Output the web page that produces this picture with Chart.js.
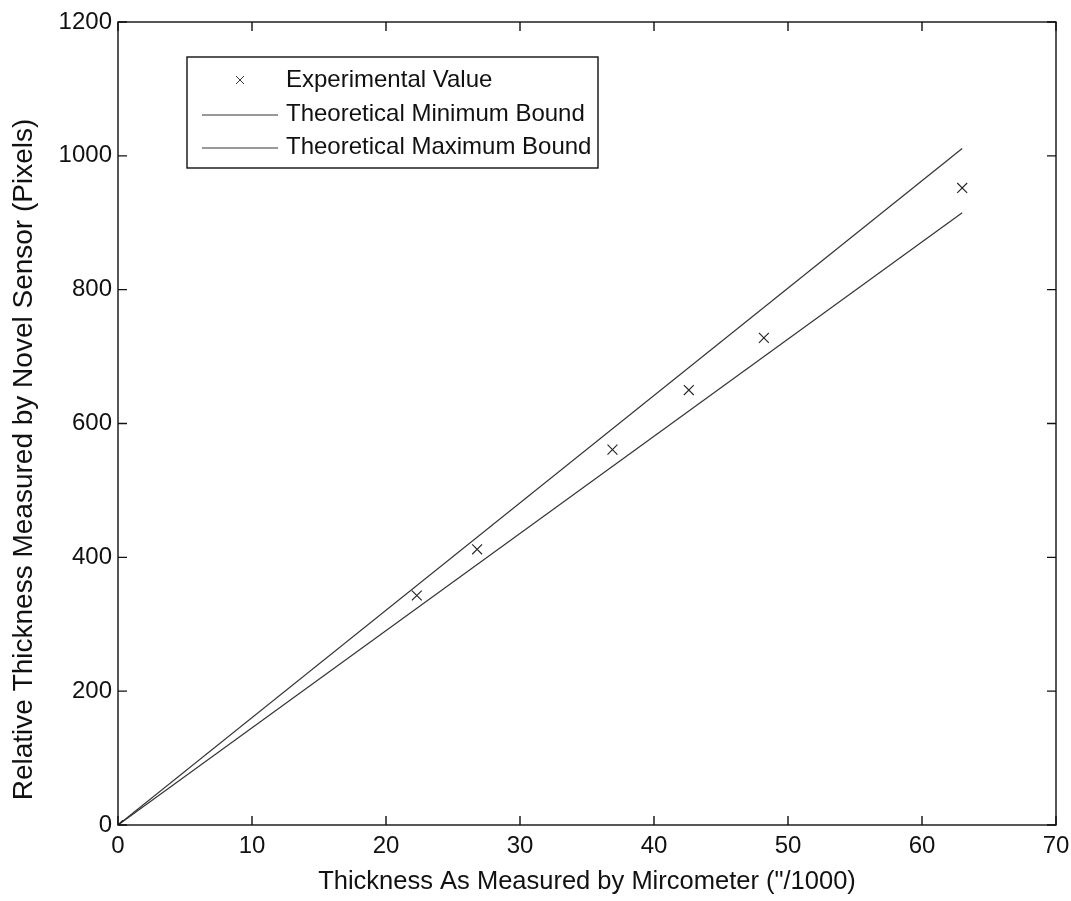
<!DOCTYPE html>
<html><head><meta charset="utf-8">
<script src="https://cdn.jsdelivr.net/npm/chart.js@4/dist/chart.umd.min.js"></script>
<style>html,body{margin:0;padding:0;background:#fff}#wrap{width:1071px;height:901px;position:relative}</style>
</head><body><div id="wrap"><canvas id="c" width="1071" height="901"></canvas></div>
<script>
const expX=[0,22.3,26.8,36.9,42.6,48.2,63.0];
const expY=[0,343,412,561,650,728,952];
const boundX=[0,63];
const minBoundY=[0,915];
const maxBoundY=[0,1011];
const xTicks=[0,10,20,30,40,50,60,70];
const yTicks=[0,200,400,600,800,1000,1200];
const seriesLabels=['Experimental Value','Theoretical Minimum Bound','Theoretical Maximum Bound'];
const xTitle='Thickness As Measured by Mircometer ("/1000)';
const yTitle='Relative Thickness Measured by Novel Sensor (Pixels)';

const FONT='"Liberation Sans", Arial, sans-serif';
const toPts=(xs,ys)=>xs.map((v,i)=>({x:v,y:ys[i]}));

const framePlugin={id:'frame',afterDraw(chart){
  const {ctx,chartArea:a,scales:{x,y}}=chart;
  ctx.save();
  ctx.strokeStyle='#111';ctx.lineWidth=1.4;
  ctx.strokeRect(a.left,a.top,a.right-a.left,a.bottom-a.top);
  const L=9;
  ctx.beginPath();
  xTicks.forEach(v=>{const p=x.getPixelForValue(v);
    ctx.moveTo(p,a.bottom);ctx.lineTo(p,a.bottom-L);
    ctx.moveTo(p,a.top);ctx.lineTo(p,a.top+L);});
  yTicks.forEach(v=>{const p=y.getPixelForValue(v);
    ctx.moveTo(a.left,p);ctx.lineTo(a.left+L,p);
    ctx.moveTo(a.right,p);ctx.lineTo(a.right-L,p);});
  ctx.stroke();
  // y-axis title
  ctx.save();
  ctx.translate(24,(y.getPixelForValue(0)+y.getPixelForValue(1200))/2+36);
  ctx.rotate(-Math.PI/2);
  ctx.font='28px '+FONT;ctx.fillStyle='#111';ctx.textAlign='center';ctx.textBaseline='middle';
  ctx.fillText(yTitle,0,0);
  ctx.restore();
  // legend
  const bx=187,by=57,bw=411,bh=111;
  ctx.fillStyle='#fff';ctx.fillRect(bx,by,bw,bh);
  ctx.lineWidth=1.4;ctx.strokeStyle='#111';ctx.strokeRect(bx,by,bw,bh);
  const rows=[80,114,147];
  ctx.font='24px '+FONT;ctx.fillStyle='#111';ctx.textBaseline='middle';ctx.textAlign='left';
  chart.data.datasets.forEach((ds,i)=>{
    const ry=rows[i];
    ctx.lineWidth=1;ctx.strokeStyle='#333';
    if(i===0){
      const r=4;ctx.beginPath();
      ctx.moveTo(240-r,ry-r);ctx.lineTo(240+r,ry+r);
      ctx.moveTo(240-r,ry+r);ctx.lineTo(240+r,ry-r);ctx.stroke();
    } else {
      ctx.beginPath();ctx.moveTo(202,ry+1);ctx.lineTo(278,ry+1);ctx.stroke();
    }
    ctx.fillText(ds.label,286,ry);
  });
  ctx.restore();
}};

new Chart(document.getElementById('c'),{
  type:'scatter',
  data:{datasets:[
    {label:seriesLabels[0],data:toPts(expX,expY),showLine:false,pointStyle:'crossRot',pointRadius:7,pointBorderWidth:1.1,borderColor:'#222',backgroundColor:'#222'},
    {label:seriesLabels[1],data:toPts(boundX,minBoundY),showLine:true,pointRadius:0,borderWidth:1.2,borderColor:'#333'},
    {label:seriesLabels[2],data:toPts(boundX,maxBoundY),showLine:true,pointRadius:0,borderWidth:1.2,borderColor:'#333'}
  ]},
  options:{
    responsive:false,devicePixelRatio:1,animation:false,
    layout:{padding:{top:22,right:15,left:0,bottom:0}},
    plugins:{legend:{display:false},tooltip:{enabled:false}},
    scales:{
      x:{type:'linear',min:0,max:70,
        afterBuildTicks:s=>{s.ticks=xTicks.map(v=>({value:v}));},
        afterFit:s=>{s.height=76;s.paddingRight=0;s.paddingLeft=0;},
        grid:{display:false,drawTicks:false,tickLength:0},border:{display:false},
        ticks:{font:{size:24,family:FONT},color:'#111',padding:7,maxRotation:0,callback:v=>String(v)},
        title:{display:true,text:xTitle,font:{size:25.5,family:FONT},color:'#111',padding:{top:0,bottom:4}}},
      y:{type:'linear',min:0,max:1200,
        afterBuildTicks:s=>{s.ticks=yTicks.map(v=>({value:v}));},
        afterFit:s=>{s.width=118;s.paddingTop=0;s.paddingBottom=0;},
        grid:{display:false,drawTicks:false,tickLength:0},border:{display:false},
        ticks:{font:{size:24,family:FONT},color:'#111',padding:6,callback:v=>String(v)},
        title:{display:false,text:yTitle}}
    }
  },
  plugins:[framePlugin]
});
</script></body></html>
